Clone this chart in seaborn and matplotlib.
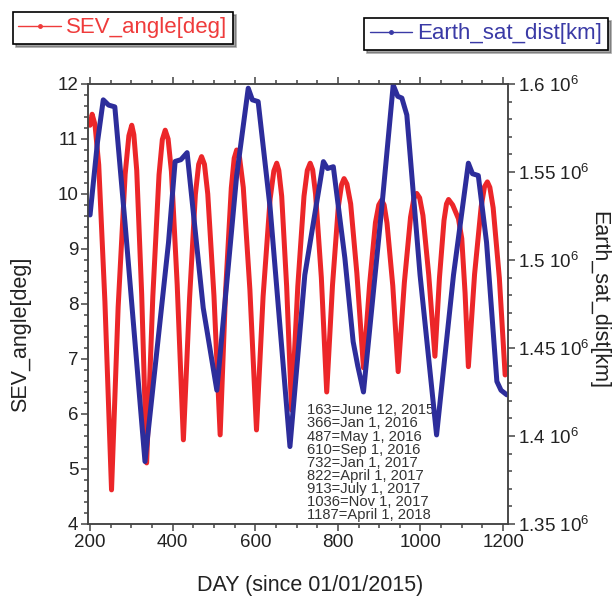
import numpy as np
import pandas as pd
import seaborn as sns
import matplotlib
matplotlib.use('Agg')
import matplotlib.pyplot as plt
from matplotlib.lines import Line2D
from matplotlib.ticker import MultipleLocator, FixedLocator

#///// Data
# SEV angle (deg) vs day since 01/01/2015
sev_day = [200, 205, 212, 221, 236, 252, 268, 285, 294, 301, 306, 313, 325, 337,
           352, 367, 375, 382, 389, 397, 411, 426, 441, 455, 463, 470, 477, 485,
           500, 515, 528, 542, 549, 555, 562, 571, 587, 603, 619, 636, 645, 652,
           657, 664, 676, 688, 703, 718, 726, 733, 739, 746, 760, 773, 787, 801,
           809, 815, 822, 831, 846, 862, 877, 891, 899, 906, 912, 919, 933, 946,
           961, 976, 984, 991, 998, 1006, 1020, 1035, 1046, 1057, 1063, 1068, 1078,
           1092, 1100, 1108, 1116, 1131, 1147, 1155, 1162, 1168, 1176, 1191, 1205]
sev_angle = [11.25, 11.45, 11.26, 10.53, 8.04, 4.62, 7.94, 10.36, 11.06, 11.25, 11.08, 10.43, 8.18, 5.11,
             8.14, 10.35, 10.99, 11.16, 11.0, 10.41, 8.35, 5.53, 8.11, 9.99, 10.54, 10.68, 10.54, 10.0,
             8.15, 5.62, 8.21, 10.11, 10.65, 10.8, 10.66, 10.12, 8.26, 5.71, 8.14, 9.91, 10.42, 10.56,
             10.43, 9.96, 8.32, 6.07, 8.32, 9.96, 10.43, 10.56, 10.44, 10.0, 8.48, 6.40, 8.34, 9.76,
             10.17, 10.28, 10.18, 9.82, 8.56, 6.84, 8.37, 9.48, 9.80, 9.89, 9.80, 9.47, 8.33, 6.77,
             8.39, 9.58, 9.92, 10.01, 9.93, 9.61, 8.53, 7.05, 8.48, 9.52, 9.82, 9.9, 9.8,
             9.55, 9.19, 8.2, 6.86, 8.54, 9.77, 10.13, 10.22, 10.12, 9.75, 8.47, 6.71]

# Earth-satellite distance (km)
dist_day = [200, 218, 232, 245, 260, 285, 333, 390, 406, 420, 435, 474,
            507, 555, 583, 593, 607, 636, 684, 720, 765, 775, 789, 817,
            837, 848, 862, 906, 934, 945, 955, 967, 999, 1039, 1080, 1116,
            1126, 1140, 1160, 1185, 1195, 1209]
dist_km = [1.5256e6, 1.567e6, 1.591e6, 1.588e6, 1.587e6, 1.52e6, 1.3855e6, 1.510e6,
           1.556e6, 1.557e6, 1.561e6, 1.4728e6, 1.426e6, 1.548e6, 1.5976e6, 1.591e6,
           1.590e6, 1.5296e6, 1.394e6, 1.4915e6, 1.5559e6, 1.552e6, 1.553e6, 1.501e6,
           1.4536e6, 1.44e6, 1.425e6, 1.529e6, 1.5994e6, 1.593e6, 1.592e6, 1.5824e6,
           1.4915e6, 1.4006e6, 1.4915e6, 1.555e6, 1.549e6, 1.548e6, 1.510e6, 1.431e6,
           1.426e6, 1.4234e6]

dist_ticks = [1.35e6, 1.4e6, 1.45e6, 1.5e6, 1.55e6, 1.6e6]
dist_tick_labels = ['1.35', '1.4', '1.45', '1.5', '1.55', '1.6']

date_notes = ['163=June 12, 2015', '366=Jan 1, 2016', '487=May 1, 2016',
              '610=Sep 1, 2016', '732=Jan 1, 2017', '822=April 1, 2017',
              '913=July 1, 2017', '1036=Nov 1, 2017', '1187=April 1, 2018']

red = '#ec2629'
blue = '#2d2d9b'
red_light = '#ef3b3b'
blue_light = '#3a3aa6'
axis_grey = '#444444'

#///// Style
sns.set_style('ticks')
plt.rcParams['font.family'] = ['Liberation Sans', 'DejaVu Sans']
plt.rcParams['mathtext.fontset'] = 'custom'
plt.rcParams['mathtext.rm'] = 'Liberation Sans'
plt.rcParams['mathtext.it'] = 'Liberation Sans:italic'

sev = pd.DataFrame({'day': sev_day, 'angle': sev_angle})
dist = pd.DataFrame({'day': dist_day, 'km': dist_km})

fig = plt.figure(figsize=(6.14, 5.97), dpi=100)
ax = fig.add_axes([0.1433, 0.1223, 0.6841, 0.737])
ax2 = ax.twinx()

# Draw lines
sns.lineplot(data=sev, x='day', y='angle', ax=ax, color=red, lw=3.6, legend=False)
sns.lineplot(data=dist, x='day', y='km', ax=ax2, color=blue, lw=3.6, legend=False)

# x-axis
ax.set_xlim(195, 1212)
ax.xaxis.set_major_locator(MultipleLocator(200))
ax.xaxis.set_minor_locator(MultipleLocator(50))
ax.set_xlabel('DAY (since 01/01/2015)', fontsize=15.5, color='#222222')
ax.xaxis.set_label_coords(0.53, -0.115)

# left y-axis
ax.set_ylim(4, 12)
ax.yaxis.set_major_locator(MultipleLocator(1))
ax.yaxis.set_minor_locator(MultipleLocator(0.2))
ax.set_ylabel('SEV_angle[deg]', fontsize=15.5, color='#222222')
ax.yaxis.set_label_coords(-0.135, 0.43)

# right y-axis
ax2.set_ylim(1.35e6, 1.6e6)
ax2.yaxis.set_major_locator(FixedLocator(dist_ticks))
ax2.yaxis.set_minor_locator(MultipleLocator(0.01e6))
ax2.set_yticklabels([t + r' 10$^{\mathregular{6}}$' for t in dist_tick_labels])
ax2.set_ylabel('Earth_sat_dist[km]', fontsize=15.5, color='#222222', rotation=270, va='bottom')
ax2.yaxis.set_label_coords(1.19, 0.51)

ax.tick_params(which='both', direction='out', top=True, right=False,
               labelsize=13.5, colors=axis_grey, labelcolor='#222222', width=1.1, pad=2)
ax.tick_params(which='major', length=5)
ax.tick_params(which='minor', length=3)
ax2.tick_params(which='both', direction='out', labelsize=13.5, colors=axis_grey,
                labelcolor='#222222', width=1.1, pad=2)
ax2.tick_params(which='major', length=5)
ax2.tick_params(which='minor', length=3)
for a in (ax, ax2):
    for s in a.spines.values():
        s.set_color(axis_grey)
        s.set_linewidth(1.1)

# Date notes
ax.text(0.522, 0.004, '\n'.join(date_notes), transform=ax.transAxes, ha='left', va='bottom',
        fontsize=10.6, color='#333333', linespacing=0.92)

# Legends
h1 = [Line2D([], [], color=red_light, lw=1, marker='o', ms=2.5)]
h2 = [Line2D([], [], color=blue_light, lw=1, marker='o', ms=2.5)]
leg_kw = dict(fontsize=16, labelcolor='linecolor', frameon=True, fancybox=False,
              shadow=True, edgecolor='black', handlelength=1.9, handletextpad=0.25,
              borderpad=0.25, borderaxespad=0)
leg1 = fig.legend(h1, ['SEV_angle[deg]'], loc='upper left', bbox_to_anchor=(0.021, 0.98), **leg_kw)
leg2 = fig.legend(h2, ['Earth_sat_dist[km]'], loc='upper right', bbox_to_anchor=(0.99, 0.97), **leg_kw)
for lg in (leg1, leg2):
    lg.get_frame().set_linewidth(1.2)

plt.savefig('out.png', dpi=100)
